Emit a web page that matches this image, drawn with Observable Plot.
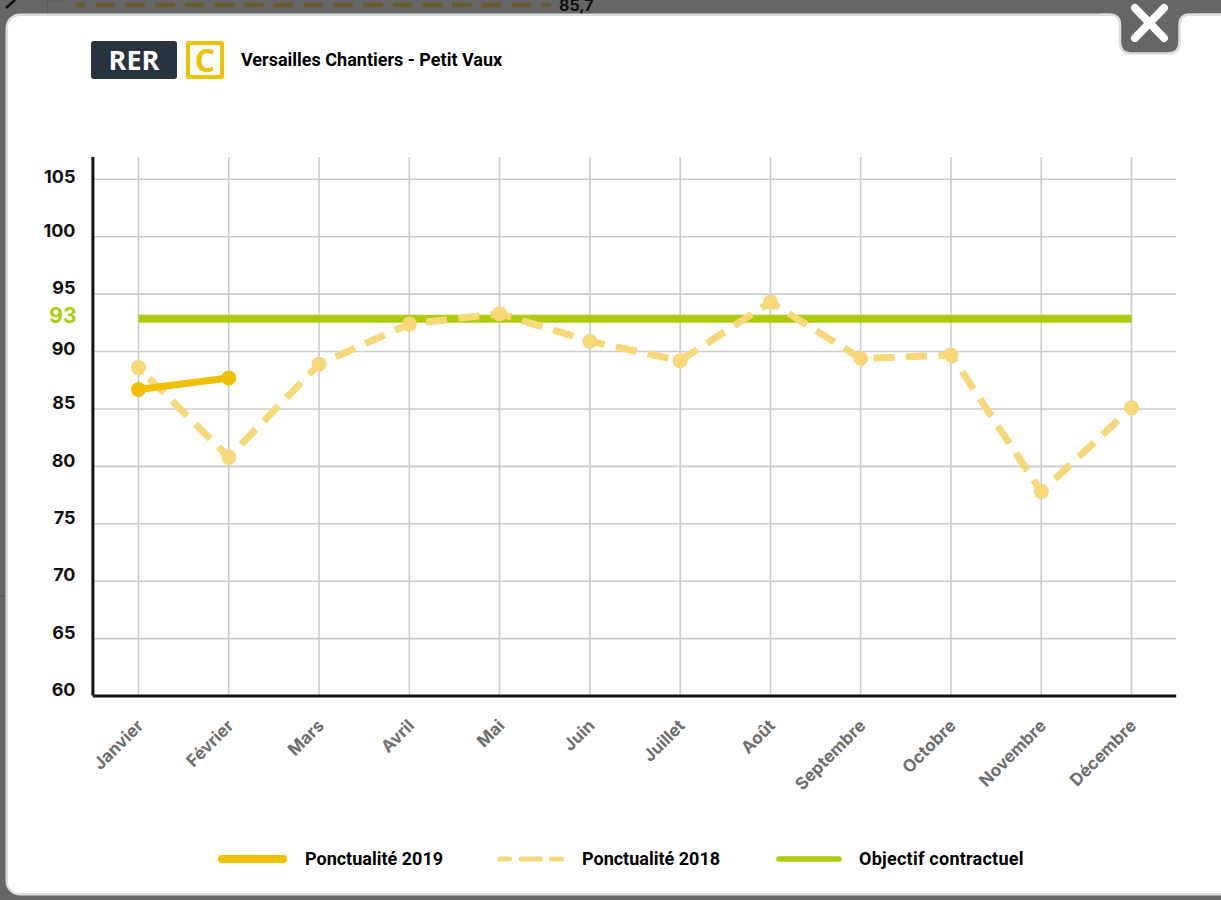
<!DOCTYPE html>
<html lang="fr">
<head>
<meta charset="utf-8">
<script src="https://cdn.jsdelivr.net/npm/d3@7"></script>
<script src="https://cdn.jsdelivr.net/npm/@observablehq/plot@0.6"></script>
<style>
html,body{margin:0;padding:0;width:1221px;height:900px;overflow:hidden;background:#666;font-family:Inter,"Open Sans",sans-serif}
#bg{position:absolute;left:0;top:0}
#bgval{position:absolute;left:559px;top:0;font:700 16px/11px Inter,sans-serif;color:#111}
#modal{position:absolute;left:8px;top:16px;width:1230px;height:877px;background:#fff;border-radius:12px;box-shadow:0 0 0 2.5px #ddd}
#tab{position:absolute;left:0;top:0}
#chart{position:absolute;left:0;top:0}
#rer{position:absolute;left:91px;top:41px;width:86px;height:38px;border-radius:3px;background:#27333f;color:#fff;font:700 27px "Open Sans",sans-serif;line-height:38px;text-align:center}
#line{position:absolute;left:186px;top:41px;width:30px;height:30px;border:4px solid #f0c000;border-radius:3px;color:#f0c000;font:700 32px "Open Sans",sans-serif;line-height:30px;text-align:center}
#title{position:absolute;left:241px;top:49px;font:700 18px Roboto,sans-serif;color:#000;white-space:nowrap}
#legend span{position:absolute;top:848px;font:700 18px Roboto,sans-serif;color:#000;white-space:nowrap}
#legend svg{position:absolute;left:0;top:850px}
</style>
</head>
<body>
<svg id="bg" width="1221" height="900">
  <path d="M6 8 L15 0" stroke="#111" stroke-width="2.5" fill="none"/>
  <path d="M47.5 14 V1 H63" stroke="#5a5a5a" stroke-width="1" fill="none"/>
  <path d="M0 596 H6" stroke="#5a5a5a" stroke-width="1.5" fill="none"/>
  <line x1="75.7" x2="551" y1="5" y2="5" stroke="#6b5a2c" stroke-width="4.5" stroke-dasharray="10 10 19.7 10 19.7 10 19.7 10 19.7 10 19.7 10 19.7 10 19.7 10 19.7 10 19.7 10 19.7 10 19.7 10 19.7 10 19.7 10 19.7 10 19.7 10 19.7 10"/>
</svg>
<div id="bgval">85,7</div>
<div id="modal"></div>
<svg id="tab" width="1221" height="70">
  <path d="M1100 -5 V14.5 H1109 Q1120 14.5 1120 25 V42 Q1120 53.5 1131 53.5 H1168 Q1179.5 53.5 1179.5 42 V25 Q1179.5 14.5 1190 14.5 H1200 V-5 Z" fill="#666"/>
  <path d="M1100 14.5 H1109 Q1120 14.5 1120 25 V42 Q1120 53.5 1131 53.5 H1168 Q1179.5 53.5 1179.5 42 V25 Q1179.5 14.5 1190 14.5 H1221" fill="none" stroke="#ddd" stroke-width="2.5"/>
  <path d="M1135 8 L1164 38 M1164 8 L1135 38" stroke="#fff" stroke-width="8" stroke-linecap="round"/>
</svg>
<div id="rer">RER</div>
<div id="line">C</div>
<div id="title">Versailles Chantiers - Petit Vaux</div>
<div id="chart"></div>
<div id="legend">
  <svg width="1221" height="20">
    <line x1="222" x2="283" y1="9" y2="9" stroke="#f0c000" stroke-width="8" stroke-linecap="round"/>
    <line x1="500.3" x2="561.2" y1="9" y2="9" stroke="#f7d777" stroke-width="5" stroke-linecap="round" stroke-dasharray="9.2 11.7 19.1 11.2 9.7"/>
    <line x1="779" x2="839" y1="9" y2="9" stroke="#afca0b" stroke-width="5.5" stroke-linecap="round"/>
  </svg>
  <span style="left:305px">Ponctualité 2019</span>
  <span style="left:582px">Ponctualité 2018</span>
  <span style="left:859px;letter-spacing:.25px">Objectif contractuel</span>
</div>
<script>
const months = ["Janvier","Février","Mars","Avril","Mai","Juin","Juillet","Août","Septembre","Octobre","Novembre","Décembre"];
const values2018 = [88.6,80.8,88.9,92.4,93.3,90.9,89.2,94.3,89.4,89.7,77.8,85.1];
const values2019 = [86.7,87.7];
const objective = 92.85;
const yTicks = [60,65,70,75,80,85,90,95,100,105];
const yTicksHigh = [90,105];

const s2018 = months.map((m,i)=>({m,v:values2018[i]}));
const s2019 = values2019.map((v,i)=>({m:months[i],v}));
const sObj = months.map(m=>({m,v:objective}));
const yFont = {fontFamily:"Inter,sans-serif",fontWeight:700,fontSize:18,fill:"#111",textAnchor:"end"};

const chart = Plot.plot({
  width:1221,height:900,
  marginLeft:92.86,marginRight:44.84,marginTop:157,marginBottom:204.5,
  style:{background:"transparent",overflow:"visible"},
  x:{type:"point",domain:months,padding:0.5,round:false,axis:null},
  y:{domain:[60,106.9],axis:null},
  marks:[
    Plot.ruleY(yTicks.slice(1),{stroke:"#ccc",strokeWidth:1.6,strokeOpacity:1}),
    Plot.ruleX(months,{stroke:"#ccc",strokeWidth:1.6,strokeOpacity:1}),
    Plot.line(sObj,{x:"m",y:"v",stroke:"#afca0b",strokeWidth:8,strokeLinecap:"butt"}),
    Plot.line(s2018,{x:"m",y:"v",stroke:"#f7d777",strokeWidth:7,strokeDasharray:"21 11.5",strokeDashoffset:17.5,strokeLinecap:"butt",strokeLinejoin:"miter"}),
    Plot.dot(s2018,{x:"m",y:"v",r:7.5,fill:"#f7d777"}),
    Plot.line(s2019,{x:"m",y:"v",stroke:"#f0c000",strokeWidth:7,strokeLinecap:"butt"}),
    Plot.dot(s2019,{x:"m",y:"v",r:7.5,fill:"#f0c000"}),
    Plot.ruleY([60],{stroke:"#111",strokeWidth:3}),
    Plot.ruleX([0],{x:()=>months[0],dx:-45.6,stroke:"#111",strokeWidth:3}),
    Plot.text(yTicks.filter(t=>!yTicksHigh.includes(t)),{x:()=>months[0],y:d=>d,text:d=>String(d),dx:-63,dy:-5.5,...yFont}),
    Plot.text(yTicksHigh,{x:()=>months[0],y:d=>d,text:d=>String(d),dx:-63,dy:-2,...yFont}),
    Plot.text([objective],{x:()=>months[0],y:d=>d,text:()=>"93",dx:-62,dy:-3,...yFont,fontSize:21,fill:"#afca0b"}),
    Plot.text(months,{x:d=>d,y:()=>60,text:d=>d,rotate:-45,textAnchor:"end",dx:2,dy:27,fontFamily:"Inter,sans-serif",fontWeight:700,fontSize:17,fill:"#6e6e6e"})
  ]
});
document.getElementById("chart").appendChild(chart);
</script>
</body>
</html>
